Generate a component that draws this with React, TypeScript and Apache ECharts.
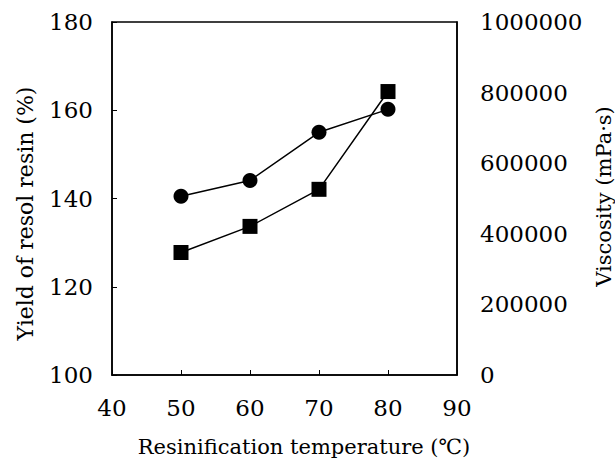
import React, { useEffect, useRef } from "react";
import * as echarts from "echarts";

const temperatures = [50, 60, 70, 80];
const yieldValues = [140.5, 144.1, 155.0, 160.2];
const viscosityValues = [347000, 421000, 526000, 803000];

const FONT = "'DejaVu Serif', serif";

export default function App() {
  const ref = useRef<HTMLDivElement>(null);
  useEffect(() => {
    if (!ref.current) return;
    const chart = echarts.init(ref.current, null, { renderer: "svg" });
    const tickStyle = { fontFamily: FONT, fontSize: 23, color: "#000" };
    chart.setOption({
      animation: false,
      backgroundColor: "#fff",
      grid: {
        left: 112,
        right: 158,
        top: 22,
        bottom: 92,
        containLabel: false,
        outerBoundsMode: "none",
        show: true,
        borderColor: "#000",
        borderWidth: 1.5,
      },
      xAxis: {
        type: "value",
        min: 40,
        max: 90,
        interval: 10,
        name: "Resinification temperature (℃)",
        nameLocation: "middle",
        nameGap: 61,
        nameTextStyle: { fontFamily: FONT, fontSize: 21, color: "#000", padding: [0, 0, 0, 39] },
        axisLine: { show: true, lineStyle: { color: "#000", width: 1.5 } },
        axisTick: { show: true, inside: true, length: 5, lineStyle: { color: "#000" } },
        axisLabel: { ...tickStyle, margin: 21, formatter: (v: number) => String(v) },
        splitLine: { show: false },
      },
      yAxis: [
        {
          type: "value",
          min: 100,
          max: 180,
          interval: 20,
          name: "Yield of resol resin (%)",
          nameLocation: "middle",
          nameRotate: 90,
          nameGap: 76,
          nameTextStyle: { fontFamily: FONT, fontSize: 22, color: "#000", padding: [0, 30, 0, 0] },
          axisLine: { show: true, lineStyle: { color: "#000", width: 1.5 } },
          axisTick: { show: true, inside: true, length: 5, lineStyle: { color: "#000" } },
          axisLabel: { ...tickStyle, margin: 19, formatter: (v: number) => String(v) },
          splitLine: { show: false },
        },
        {
          type: "value",
          min: 0,
          max: 1000000,
          interval: 200000,
          position: "right",
          name: "Viscosity (mPa·s)",
          nameLocation: "middle",
          nameRotate: 90,
          nameGap: 116,
          nameTextStyle: { fontFamily: FONT, fontSize: 21, color: "#000", padding: [0, 0, 0, 4] },
          axisLine: { show: true, lineStyle: { color: "#000", width: 1.5 } },
          axisTick: { show: false },
          axisLabel: { ...tickStyle, margin: 23, formatter: (v: number) => String(v) },
          splitLine: { show: false },
        },
      ],
      series: [
        {
          type: "line",
          yAxisIndex: 0,
          data: temperatures.map((t, i) => [t, yieldValues[i]]),
          symbol: "circle",
          symbolSize: 15,
          itemStyle: { color: "#000" },
          lineStyle: { color: "#000", width: 1.5 },
        },
        {
          type: "line",
          yAxisIndex: 1,
          data: temperatures.map((t, i) => [t, viscosityValues[i]]),
          symbol: "rect",
          symbolSize: 15,
          itemStyle: { color: "#000" },
          lineStyle: { color: "#000", width: 1.5 },
        },
      ],
    });
    return () => chart.dispose();
  }, []);
  return <div ref={ref} style={{ width: 615, height: 467, position: "absolute", left: 0, top: 0 }} />;
}
